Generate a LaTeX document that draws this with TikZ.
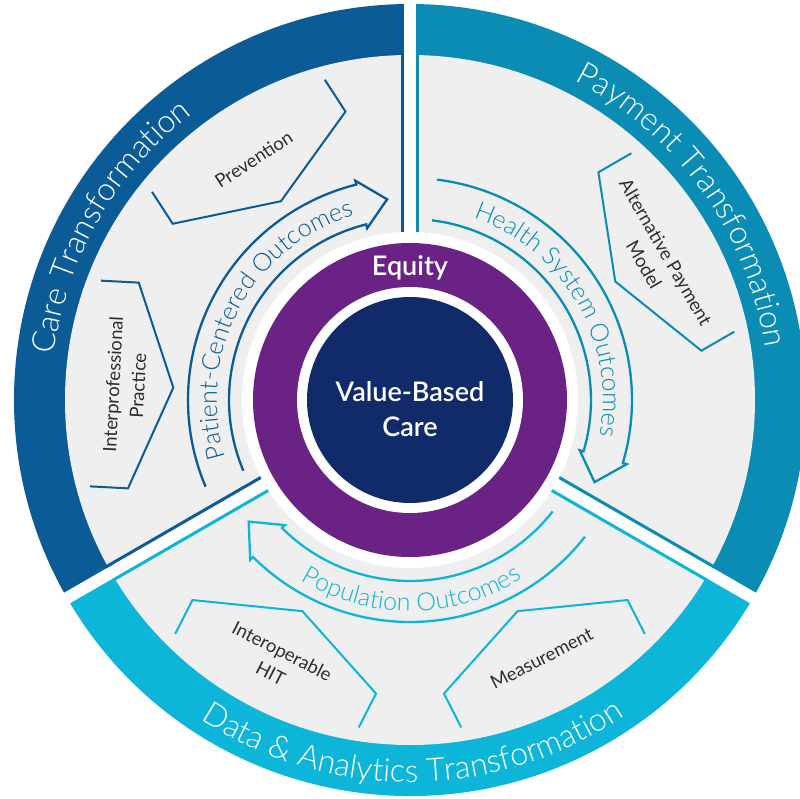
\documentclass[tikz,border=0pt]{standalone}
\usepackage{fontspec}
\setmainfont{Lato}[UprightFont={* Light}, BoldFont={* Semibold}]
\newfontfamily\itemfamily{Lato}
\usetikzlibrary{decorations.text}
\definecolor{careblue}{HTML}{0B5B96}
\definecolor{payteal}{HTML}{0B8CB4}
\definecolor{datacyan}{HTML}{0DB5D8}
\definecolor{eqpurple}{HTML}{6A2384}
\definecolor{vbcnavy}{HTML}{112A6A}
\definecolor{panel}{HTML}{EFEFEF}
\definecolor{inkgray}{HTML}{2E2E2E}

\newcommand{\bandfont}{\fontsize{32}{38}\selectfont}
\newcommand{\outfont}{\fontsize{25}{30}\selectfont}

% open chevron pointing at the centre: angle, colour
\newcommand{\chevron}[2]{%
  \draw[chev, #2, rotate=#1-90] (-103,315) -- (-103,277) -- (0,237) -- (103,277) -- (103,315);}
% curved outcome arrow: colour, tail angle, head base angle, tip angle
\newcommand{\outarrow}[4]{%
  \draw[outline, #1] (#2:222) arc[start angle=#2, end angle=#3, radius=222]
    -- (#3:226) -- (#4:202) -- (#3:177) -- (#3:181)
    arc[start angle=#3, end angle=#2, radius=181];}
% text set along an arc: radius, from, to, format, text
\newcommand{\arclabel}[5]{%
  \path[decorate, decoration={text along path, text align=center, text={|#4|#5}}]
    (#2:#1) arc[start angle=#2, end angle=#3, radius=#1];}

\begin{document}
\begin{tikzpicture}[x=1pt, y=1pt,
  chev/.style={line width=2pt, line join=miter},
  outline/.style={line width=2.3pt, line join=miter},
  edge/.style={line width=3pt},
  itemtext/.style={text=inkgray, align=center, font=\itemfamily\fontsize{18.5}{25}\selectfont},
  core/.style={text=white, align=center, font=\fontsize{27}{35}\selectfont\bfseries}]

\useasboundingbox (-410,-399) rectangle (390,400);
\clip (-410,-399) rectangle (390,400);

% Outer bands, one per transformation
\fill[careblue] (0,0) -- (90:396) arc[start angle=90, end angle=210, radius=396] -- cycle;
\fill[payteal] (0,0) -- (-30:396) arc[start angle=-30, end angle=90, radius=396] -- cycle;
\fill[datacyan] (0,0) -- (210:396) arc[start angle=210, end angle=330, radius=396] -- cycle;
\fill[panel] (0,0) circle (345);

% White gaps between sectors, with a thin edge in each sector colour
\foreach \ang/\ccw/\cw in {90/careblue/payteal, 210/datacyan/careblue, 330/payteal/datacyan} {
  \begin{scope}[rotate=\ang]
    \fill[white] (140,-6) rectangle (410,6);
    \draw[edge, \ccw] (160,7.5) -- (347,7.5);
    \draw[edge, \cw] (160,-7.5) -- (347,-7.5);
  \end{scope}
}

% Core rings
\fill[white] (0,0) circle (168);
\fill[eqpurple] (0,0) circle (157);
\fill[white] (0,0) circle (113);
\fill[vbcnavy] (0,0) circle (103);

\node[core] (equity) at (0,132) {Equity};
\node[core] (vbc) at (0,-9) {Value-Based\\Care};

% Band titles
\arclabel{359}{220}{80}{\bandfont\color{white}}{Care Transformation}
\arclabel{359}{105}{-34}{\bandfont\color{white}}{Payment Transformation}
\arclabel{382}{200}{341}{\bandfont\color{white}}{Data {\&} Analytics Transformation}

% Outcome arrows
\outarrow{careblue}{203}{104}{96.5}
\outarrow{payteal}{83}{-16.5}{-24}
\outarrow{datacyan}{322}{225}{217}

\arclabel{193}{222}{82}{\outfont\color{careblue}}{Patient-Centered Outcomes}
\arclabel{193}{100}{-40}{\outfont\color{payteal}}{Health System Outcomes}
\arclabel{211}{200}{341}{\outfont\color{datacyan}}{Population Outcomes}

% Chevrons
\chevron{123}{careblue}
\chevron{177}{careblue}
\chevron{30}{payteal}
\chevron{243}{datacyan}
\chevron{297}{datacyan}

\node[itemtext, rotate=33] (prevention) at (123:287) {Prevention};
\node[itemtext, rotate=87] (interpro) at (177:285) {Interprofessional\\Practice};
\node[itemtext, rotate=-60] (altpay) at (30:283) {Alternative Payment\\Model};
\node[itemtext, rotate=-27] (hit) at (243:294) {Interoperable\\HIT};
\node[itemtext, rotate=27] (measure) at (297:290) {Measurement};

\end{tikzpicture}
\end{document}
